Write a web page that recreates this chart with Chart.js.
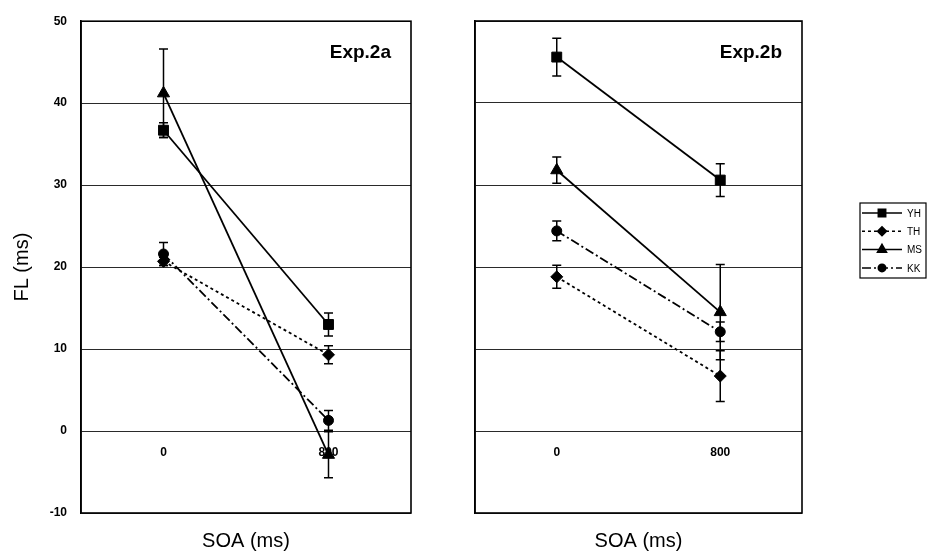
<!DOCTYPE html>
<html>
<head>
<meta charset="utf-8">
<script src="https://cdn.jsdelivr.net/npm/chart.js@4.4.0/dist/chart.umd.min.js"></script>
<style>
  html, body { margin: 0; padding: 0; background: #fff; }
  #wrap { position: relative; width: 930px; height: 553px; }
  canvas { position: absolute; top: 0; }
  #left { left: 0; }
  #right { left: 440px; }
</style>
</head>
<body>
<div id="wrap">
  <canvas id="left" width="440" height="553"></canvas>
  <canvas id="right" width="490" height="553"></canvas>
</div>
<script>
const soa = ['0', '800'];
const subjects = ['YH', 'TH', 'MS', 'KK'];
const yTicks = [-10, 0, 10, 20, 30, 40, 50];

// Exp.2a  (means, then +/- error)
const yh_2a = [36.7, 13.0];
const th_2a = [20.7, 9.3];
const ms_2a = [41.2, -2.9];
const kk_2a = [21.6, 1.3];
const yh_2a_err = [0.9, 1.4];
const th_2a_err = [0.5, 1.1];
const ms_2a_err = [5.4, 2.8];
const kk_2a_err = [1.4, 1.2];

// Exp.2b
const yh_2b = [45.6, 30.6];
const th_2b = [18.8, 6.7];
const ms_2b = [31.8, 14.5];
const kk_2b = [24.4, 12.1];
const yh_2b_err = [2.3, 2.0];
const th_2b_err = [1.4, 3.1];
const ms_2b_err = [1.6, 5.8];
const kk_2b_err = [1.2, 1.2];

const FONT = "'Liberation Sans', Arial, sans-serif";

// marker + line style for each subject
const looks = [
    {pointStyle: 'rect', radius: 7, dash: []},
    {pointStyle: 'rectRot', radius: 6, dash: [3, 3]},
    {pointStyle: 'triangle', radius: 7, dash: []},
    {pointStyle: 'circle', radius: 5, dash: [9, 3, 2, 3]}
];

function makeSets(values, errors) {
    return subjects.map((s, i) => ({
        label: s,
        data: values[i],
        errors: errors[i],
        borderColor: '#000',
        backgroundColor: '#000',
        borderWidth: 1.8,
        borderDash: looks[i].dash,
        pointStyle: looks[i].pointStyle,
        pointRadius: looks[i].radius,
        pointHoverRadius: looks[i].radius,
        pointBackgroundColor: '#000',
        pointBorderColor: '#000',
        pointBorderWidth: 1
    }));
}

const errorBars = {
    id: 'errorBars',
    afterDatasetsDraw(chart) {
        const {ctx} = chart;
        const y = chart.scales.y;
        ctx.save();
        ctx.strokeStyle = '#000';
        ctx.lineWidth = 1.5;
        ctx.setLineDash([]);
        chart.data.datasets.forEach((ds, di) => {
            chart.getDatasetMeta(di).data.forEach((pt, i) => {
                const top = y.getPixelForValue(ds.data[i] + ds.errors[i]);
                const bot = y.getPixelForValue(ds.data[i] - ds.errors[i]);
                ctx.beginPath();
                ctx.moveTo(pt.x, top); ctx.lineTo(pt.x, bot);
                ctx.moveTo(pt.x - 4.5, top); ctx.lineTo(pt.x + 4.5, top);
                ctx.moveTo(pt.x - 4.5, bot); ctx.lineTo(pt.x + 4.5, bot);
                ctx.stroke();
            });
        });
        ctx.restore();
    }
};

const frame = {
    id: 'frame',
    afterDraw(chart, args, opts) {
        const {ctx, chartArea: a} = chart;
        ctx.save();
        ctx.strokeStyle = '#000';
        ctx.lineWidth = 1.6;
        ctx.strokeRect(a.left, a.top, a.right - a.left, a.bottom - a.top);
        ctx.font = 'bold 19px ' + FONT;
        ctx.fillStyle = '#000';
        ctx.textAlign = 'right';
        ctx.textBaseline = 'middle';
        ctx.fillText(opts.text, a.right - 20, a.top + 32);
        ctx.restore();
    }
};

const sideLegend = {
    id: 'sideLegend',
    afterDraw(chart, args, opts) {
        if (!opts.show) return;
        const {ctx} = chart;
        const x0 = opts.x, y0 = opts.y;
        ctx.save();
        ctx.strokeStyle = '#000';
        ctx.lineWidth = 1.2;
        ctx.strokeRect(x0, y0, 66, 75);
        ctx.font = '10px ' + FONT;
        ctx.textBaseline = 'middle';
        ctx.fillStyle = '#000';
        chart.data.datasets.forEach((ds, i) => {
            const yy = y0 + 10 + i * 18.3;
            ctx.setLineDash(ds.borderDash);
            ctx.lineWidth = 1.5;
            ctx.beginPath();
            ctx.moveTo(x0 + 2, yy);
            ctx.lineTo(x0 + 42, yy);
            ctx.stroke();
            ctx.setLineDash([]);
            Chart.helpers.drawPoint(ctx, {pointStyle: ds.pointStyle, radius: ds.pointRadius * 0.75, rotation: 0, borderWidth: 1}, x0 + 22, yy);
            ctx.fillText(ds.label, x0 + 47, yy + 1);
        });
        ctx.restore();
    }
};

function makeChart(id, sets, label, showY, pad, legend) {
    return new Chart(document.getElementById(id), {
        type: 'line',
        data: {labels: soa, datasets: sets},
        options: {
            responsive: false,
            animation: false,
            layout: {padding: pad},
            plugins: {
                legend: {display: false},
                tooltip: {enabled: false},
                frame: {text: label},
                sideLegend: legend
            },
            scales: {
                x: {
                    type: 'category',
                    offset: true,
                    position: {y: 0},
                    grid: {display: false},
                    border: {display: false},
                    ticks: {padding: 6, color: '#000', font: {family: FONT, size: 12, weight: 'bold'}}
                },
                xt: {
                    type: 'category',
                    labels: soa,
                    offset: true,
                    position: 'bottom',
                    grid: {display: false},
                    border: {display: false},
                    ticks: {display: false},
                    title: {display: true, text: 'SOA (ms)', padding: 0, color: '#000', font: {family: FONT, size: 20}},
                    afterFit: s => { s.height = 40; }
                },
                y: {
                    min: yTicks[0],
                    max: yTicks[yTicks.length - 1],
                    ticks: {
                        display: showY,
                        stepSize: 10,
                        padding: 14,
                        color: '#000',
                        font: {family: FONT, size: 12, weight: 'bold'}
                    },
                    grid: {color: '#2a2a2a', lineWidth: 1, drawTicks: false},
                    border: {color: '#000', width: 1.6},
                    title: {display: showY, text: 'FL (ms)', padding: 0, color: '#000', font: {family: FONT, size: 20}},
                    afterFit: s => { s.width = showY ? 71 : 0; }
                }
            }
        },
        plugins: [errorBars, frame, sideLegend]
    });
}

makeChart('left',
    makeSets([yh_2a, th_2a, ms_2a, kk_2a], [yh_2a_err, th_2a_err, ms_2a_err, kk_2a_err]),
    'Exp.2a', true, {left: 10, top: 21, right: 29, bottom: 0}, {show: false});

makeChart('right',
    makeSets([yh_2b, th_2b, ms_2b, kk_2b], [yh_2b_err, th_2b_err, ms_2b_err, kk_2b_err]),
    'Exp.2b', false, {left: 35, top: 21, right: 128, bottom: 0}, {show: true, x: 420, y: 203});
</script>
</body>
</html>
